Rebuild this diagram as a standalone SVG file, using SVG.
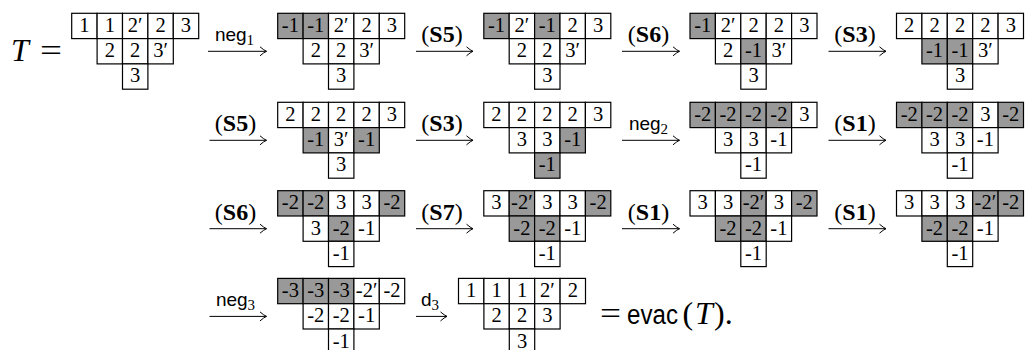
<svg xmlns="http://www.w3.org/2000/svg" xmlns:xlink="http://www.w3.org/1999/xlink" width="1026" height="350" viewBox="0 0 1026 350">
<style>
.c{fill:#fff;stroke:#000;stroke-width:1.2}
.g{fill:#999;stroke:#000;stroke-width:1.2}
.t{font-family:"Liberation Serif","DejaVu Serif",serif;font-size:20.5px;text-anchor:middle;fill:#000}
.m{font-family:"Liberation Serif","DejaVu Serif",serif;font-size:32px;fill:#000}
.mi{font-family:"Liberation Serif","DejaVu Serif",serif;font-size:32px;font-style:italic;fill:#000}
.sf{font-family:"Liberation Sans","DejaVu Sans",sans-serif;fill:#000}
.lb{font-family:"Liberation Serif","DejaVu Serif",serif;font-size:24px;text-anchor:middle;fill:#000}
.bf{font-weight:bold}
.nl{font-family:"Liberation Sans","DejaVu Sans",sans-serif;font-size:19px;text-anchor:middle;fill:#000}
.sub{font-family:"Liberation Serif","DejaVu Serif",serif;font-size:15px}
.ar{stroke:#000;stroke-width:1;fill:none;marker-end:url(#ah)}
</style>
<defs>
<rect id="w" class="c" width="25.4" height="25.3"/>
<rect id="k" class="g" width="25.4" height="25.3"/>
<marker id="ah" markerUnits="userSpaceOnUse" viewBox="-8 -6 9 12" refX="0" refY="0" markerWidth="9" markerHeight="12" orient="auto" overflow="visible">
<path d="M-6.5,-4.5 Q-2.5,-1 0,0 Q-2.5,1 -6.5,4.5" fill="none" stroke="#000" stroke-width="1"/>
</marker>
</defs>

<g id="T-eq">
<text class="mi" x="11" y="60.5">T</text>
<text class="m" x="40" y="60.5" textLength="22" lengthAdjust="spacingAndGlyphs">=</text>
</g>

<g id="t0" transform="translate(71.7,13.3)">
<use href="#w" x="0" y="0"/><use href="#w" x="25.4" y="0"/><use href="#w" x="50.8" y="0"/><use href="#w" x="76.2" y="0"/><use href="#w" x="101.6" y="0"/>
<use href="#w" x="25.4" y="25.3"/><use href="#w" x="50.8" y="25.3"/><use href="#w" x="76.2" y="25.3"/>
<use href="#w" x="50.8" y="50.6"/>
<text class="t" x="12.7" y="18.6">1</text><text class="t" x="38.1" y="18.6">1</text><text class="t" x="63.5" y="18.6">2′</text><text class="t" x="88.9" y="18.6">2</text><text class="t" x="114.3" y="18.6">3</text>
<text class="t" x="38.1" y="43.9">2</text><text class="t" x="63.5" y="43.9">2</text><text class="t" x="88.9" y="43.9">3′</text>
<text class="t" x="63.5" y="69.2">3</text>
</g>

<g id="t1" transform="translate(277.7,13.3)">
<use href="#k" x="0" y="0"/><use href="#k" x="25.4" y="0"/><use href="#w" x="50.8" y="0"/><use href="#w" x="76.2" y="0"/><use href="#w" x="101.6" y="0"/>
<use href="#w" x="25.4" y="25.3"/><use href="#w" x="50.8" y="25.3"/><use href="#w" x="76.2" y="25.3"/>
<use href="#w" x="50.8" y="50.6"/>
<text class="t" x="12.7" y="18.6">-1</text><text class="t" x="38.1" y="18.6">-1</text><text class="t" x="63.5" y="18.6">2′</text><text class="t" x="88.9" y="18.6">2</text><text class="t" x="114.3" y="18.6">3</text>
<text class="t" x="38.1" y="43.9">2</text><text class="t" x="63.5" y="43.9">2</text><text class="t" x="88.9" y="43.9">3′</text>
<text class="t" x="63.5" y="69.2">3</text>
</g>

<g id="t2" transform="translate(483.8,13.3)">
<use href="#k" x="0" y="0"/><use href="#w" x="25.4" y="0"/><use href="#k" x="50.8" y="0"/><use href="#w" x="76.2" y="0"/><use href="#w" x="101.6" y="0"/>
<use href="#w" x="25.4" y="25.3"/><use href="#w" x="50.8" y="25.3"/><use href="#w" x="76.2" y="25.3"/>
<use href="#w" x="50.8" y="50.6"/>
<text class="t" x="12.7" y="18.6">-1</text><text class="t" x="38.1" y="18.6">2′</text><text class="t" x="63.5" y="18.6">-1</text><text class="t" x="88.9" y="18.6">2</text><text class="t" x="114.3" y="18.6">3</text>
<text class="t" x="38.1" y="43.9">2</text><text class="t" x="63.5" y="43.9">2</text><text class="t" x="88.9" y="43.9">3′</text>
<text class="t" x="63.5" y="69.2">3</text>
</g>

<g id="t3" transform="translate(690,13.3)">
<use href="#k" x="0" y="0"/><use href="#w" x="25.4" y="0"/><use href="#w" x="50.8" y="0"/><use href="#w" x="76.2" y="0"/><use href="#w" x="101.6" y="0"/>
<use href="#w" x="25.4" y="25.3"/><use href="#k" x="50.8" y="25.3"/><use href="#w" x="76.2" y="25.3"/>
<use href="#w" x="50.8" y="50.6"/>
<text class="t" x="12.7" y="18.6">-1</text><text class="t" x="38.1" y="18.6">2′</text><text class="t" x="63.5" y="18.6">2</text><text class="t" x="88.9" y="18.6">2</text><text class="t" x="114.3" y="18.6">3</text>
<text class="t" x="38.1" y="43.9">2</text><text class="t" x="63.5" y="43.9">-1</text><text class="t" x="88.9" y="43.9">3′</text>
<text class="t" x="63.5" y="69.2">3</text>
</g>

<g id="t4" transform="translate(896.5,13.3)">
<use href="#w" x="0" y="0"/><use href="#w" x="25.4" y="0"/><use href="#w" x="50.8" y="0"/><use href="#w" x="76.2" y="0"/><use href="#w" x="101.6" y="0"/>
<use href="#k" x="25.4" y="25.3"/><use href="#k" x="50.8" y="25.3"/><use href="#w" x="76.2" y="25.3"/>
<use href="#w" x="50.8" y="50.6"/>
<text class="t" x="12.7" y="18.6">2</text><text class="t" x="38.1" y="18.6">2</text><text class="t" x="63.5" y="18.6">2</text><text class="t" x="88.9" y="18.6">2</text><text class="t" x="114.3" y="18.6">3</text>
<text class="t" x="38.1" y="43.9">-1</text><text class="t" x="63.5" y="43.9">-1</text><text class="t" x="88.9" y="43.9">3′</text>
<text class="t" x="63.5" y="69.2">3</text>
</g>

<g id="t5" transform="translate(277.7,102.3)">
<use href="#w" x="0" y="0"/><use href="#w" x="25.4" y="0"/><use href="#w" x="50.8" y="0"/><use href="#w" x="76.2" y="0"/><use href="#w" x="101.6" y="0"/>
<use href="#k" x="25.4" y="25.3"/><use href="#w" x="50.8" y="25.3"/><use href="#k" x="76.2" y="25.3"/>
<use href="#w" x="50.8" y="50.6"/>
<text class="t" x="12.7" y="18.6">2</text><text class="t" x="38.1" y="18.6">2</text><text class="t" x="63.5" y="18.6">2</text><text class="t" x="88.9" y="18.6">2</text><text class="t" x="114.3" y="18.6">3</text>
<text class="t" x="38.1" y="43.9">-1</text><text class="t" x="63.5" y="43.9">3′</text><text class="t" x="88.9" y="43.9">-1</text>
<text class="t" x="63.5" y="69.2">3</text>
</g>

<g id="t6" transform="translate(483.8,102.3)">
<use href="#w" x="0" y="0"/><use href="#w" x="25.4" y="0"/><use href="#w" x="50.8" y="0"/><use href="#w" x="76.2" y="0"/><use href="#w" x="101.6" y="0"/>
<use href="#w" x="25.4" y="25.3"/><use href="#w" x="50.8" y="25.3"/><use href="#k" x="76.2" y="25.3"/>
<use href="#k" x="50.8" y="50.6"/>
<text class="t" x="12.7" y="18.6">2</text><text class="t" x="38.1" y="18.6">2</text><text class="t" x="63.5" y="18.6">2</text><text class="t" x="88.9" y="18.6">2</text><text class="t" x="114.3" y="18.6">3</text>
<text class="t" x="38.1" y="43.9">3</text><text class="t" x="63.5" y="43.9">3</text><text class="t" x="88.9" y="43.9">-1</text>
<text class="t" x="63.5" y="69.2">-1</text>
</g>

<g id="t7" transform="translate(690,102.3)">
<use href="#k" x="0" y="0"/><use href="#k" x="25.4" y="0"/><use href="#k" x="50.8" y="0"/><use href="#k" x="76.2" y="0"/><use href="#w" x="101.6" y="0"/>
<use href="#w" x="25.4" y="25.3"/><use href="#w" x="50.8" y="25.3"/><use href="#w" x="76.2" y="25.3"/>
<use href="#w" x="50.8" y="50.6"/>
<text class="t" x="12.7" y="18.6">-2</text><text class="t" x="38.1" y="18.6">-2</text><text class="t" x="63.5" y="18.6">-2</text><text class="t" x="88.9" y="18.6">-2</text><text class="t" x="114.3" y="18.6">3</text>
<text class="t" x="38.1" y="43.9">3</text><text class="t" x="63.5" y="43.9">3</text><text class="t" x="88.9" y="43.9">-1</text>
<text class="t" x="63.5" y="69.2">-1</text>
</g>

<g id="t8" transform="translate(896.5,102.3)">
<use href="#k" x="0" y="0"/><use href="#k" x="25.4" y="0"/><use href="#k" x="50.8" y="0"/><use href="#w" x="76.2" y="0"/><use href="#k" x="101.6" y="0"/>
<use href="#w" x="25.4" y="25.3"/><use href="#w" x="50.8" y="25.3"/><use href="#w" x="76.2" y="25.3"/>
<use href="#w" x="50.8" y="50.6"/>
<text class="t" x="12.7" y="18.6">-2</text><text class="t" x="38.1" y="18.6">-2</text><text class="t" x="63.5" y="18.6">-2</text><text class="t" x="88.9" y="18.6">3</text><text class="t" x="114.3" y="18.6">-2</text>
<text class="t" x="38.1" y="43.9">3</text><text class="t" x="63.5" y="43.9">3</text><text class="t" x="88.9" y="43.9">-1</text>
<text class="t" x="63.5" y="69.2">-1</text>
</g>

<g id="t9" transform="translate(277.7,190.7)">
<use href="#k" x="0" y="0"/><use href="#k" x="25.4" y="0"/><use href="#w" x="50.8" y="0"/><use href="#w" x="76.2" y="0"/><use href="#k" x="101.6" y="0"/>
<use href="#w" x="25.4" y="25.3"/><use href="#k" x="50.8" y="25.3"/><use href="#w" x="76.2" y="25.3"/>
<use href="#w" x="50.8" y="50.6"/>
<text class="t" x="12.7" y="18.6">-2</text><text class="t" x="38.1" y="18.6">-2</text><text class="t" x="63.5" y="18.6">3</text><text class="t" x="88.9" y="18.6">3</text><text class="t" x="114.3" y="18.6">-2</text>
<text class="t" x="38.1" y="43.9">3</text><text class="t" x="63.5" y="43.9">-2</text><text class="t" x="88.9" y="43.9">-1</text>
<text class="t" x="63.5" y="69.2">-1</text>
</g>

<g id="t10" transform="translate(483.8,190.7)">
<use href="#w" x="0" y="0"/><use href="#k" x="25.4" y="0"/><use href="#w" x="50.8" y="0"/><use href="#w" x="76.2" y="0"/><use href="#k" x="101.6" y="0"/>
<use href="#k" x="25.4" y="25.3"/><use href="#k" x="50.8" y="25.3"/><use href="#w" x="76.2" y="25.3"/>
<use href="#w" x="50.8" y="50.6"/>
<text class="t" x="12.7" y="18.6">3</text><text class="t" x="38.1" y="18.6">-2′</text><text class="t" x="63.5" y="18.6">3</text><text class="t" x="88.9" y="18.6">3</text><text class="t" x="114.3" y="18.6">-2</text>
<text class="t" x="38.1" y="43.9">-2</text><text class="t" x="63.5" y="43.9">-2</text><text class="t" x="88.9" y="43.9">-1</text>
<text class="t" x="63.5" y="69.2">-1</text>
</g>

<g id="t11" transform="translate(690,190.7)">
<use href="#w" x="0" y="0"/><use href="#w" x="25.4" y="0"/><use href="#k" x="50.8" y="0"/><use href="#w" x="76.2" y="0"/><use href="#k" x="101.6" y="0"/>
<use href="#k" x="25.4" y="25.3"/><use href="#k" x="50.8" y="25.3"/><use href="#w" x="76.2" y="25.3"/>
<use href="#w" x="50.8" y="50.6"/>
<text class="t" x="12.7" y="18.6">3</text><text class="t" x="38.1" y="18.6">3</text><text class="t" x="63.5" y="18.6">-2′</text><text class="t" x="88.9" y="18.6">3</text><text class="t" x="114.3" y="18.6">-2</text>
<text class="t" x="38.1" y="43.9">-2</text><text class="t" x="63.5" y="43.9">-2</text><text class="t" x="88.9" y="43.9">-1</text>
<text class="t" x="63.5" y="69.2">-1</text>
</g>

<g id="t12" transform="translate(896.5,190.7)">
<use href="#w" x="0" y="0"/><use href="#w" x="25.4" y="0"/><use href="#w" x="50.8" y="0"/><use href="#k" x="76.2" y="0"/><use href="#k" x="101.6" y="0"/>
<use href="#k" x="25.4" y="25.3"/><use href="#k" x="50.8" y="25.3"/><use href="#w" x="76.2" y="25.3"/>
<use href="#w" x="50.8" y="50.6"/>
<text class="t" x="12.7" y="18.6">3</text><text class="t" x="38.1" y="18.6">3</text><text class="t" x="63.5" y="18.6">3</text><text class="t" x="88.9" y="18.6">-2′</text><text class="t" x="114.3" y="18.6">-2</text>
<text class="t" x="38.1" y="43.9">-2</text><text class="t" x="63.5" y="43.9">-2</text><text class="t" x="88.9" y="43.9">-1</text>
<text class="t" x="63.5" y="69.2">-1</text>
</g>

<g id="t13" transform="translate(277.7,278.4)">
<use href="#k" x="0" y="0"/><use href="#k" x="25.4" y="0"/><use href="#k" x="50.8" y="0"/><use href="#w" x="76.2" y="0"/><use href="#w" x="101.6" y="0"/>
<use href="#w" x="25.4" y="25.3"/><use href="#w" x="50.8" y="25.3"/><use href="#w" x="76.2" y="25.3"/>
<use href="#w" x="50.8" y="50.6"/>
<text class="t" x="12.7" y="18.6">-3</text><text class="t" x="38.1" y="18.6">-3</text><text class="t" x="63.5" y="18.6">-3</text><text class="t" x="88.9" y="18.6">-2′</text><text class="t" x="114.3" y="18.6">-2</text>
<text class="t" x="38.1" y="43.9">-2</text><text class="t" x="63.5" y="43.9">-2</text><text class="t" x="88.9" y="43.9">-1</text>
<text class="t" x="63.5" y="69.2">-1</text>
</g>

<g id="t14" transform="translate(458.5,278.4)">
<use href="#w" x="0" y="0"/><use href="#w" x="25.4" y="0"/><use href="#w" x="50.8" y="0"/><use href="#w" x="76.2" y="0"/><use href="#w" x="101.6" y="0"/>
<use href="#w" x="25.4" y="25.3"/><use href="#w" x="50.8" y="25.3"/><use href="#w" x="76.2" y="25.3"/>
<use href="#w" x="50.8" y="50.6"/>
<text class="t" x="12.7" y="18.6">1</text><text class="t" x="38.1" y="18.6">1</text><text class="t" x="63.5" y="18.6">1</text><text class="t" x="88.9" y="18.6">2′</text><text class="t" x="114.3" y="18.6">2</text>
<text class="t" x="38.1" y="43.9">2</text><text class="t" x="63.5" y="43.9">2</text><text class="t" x="88.9" y="43.9">3</text>
<text class="t" x="63.5" y="69.2">3</text>
</g>

<g id="evac">
<text class="m" x="600" y="324.4" textLength="21" lengthAdjust="spacingAndGlyphs">=</text>
<text class="sf" x="627" y="324.4" font-size="27" textLength="51" lengthAdjust="spacingAndGlyphs">evac</text>
<text class="m" x="682.5" y="324.4">(</text>
<text class="mi" x="695" y="324.4">T</text>
<text class="m" x="714" y="324.4">).</text>
</g>

<g id="connectors">
<line class="ar" x1="208" y1="51.3" x2="266.5" y2="51.3"/>
<line class="ar" x1="416" y1="51.3" x2="473" y2="51.3"/>
<line class="ar" x1="622" y1="51.3" x2="679.5" y2="51.3"/>
<line class="ar" x1="828.5" y1="51.3" x2="886" y2="51.3"/>
<line class="ar" x1="209.5" y1="140.3" x2="266.5" y2="140.3"/>
<line class="ar" x1="416" y1="140.3" x2="473" y2="140.3"/>
<line class="ar" x1="622" y1="140.3" x2="679.5" y2="140.3"/>
<line class="ar" x1="828.5" y1="140.3" x2="886" y2="140.3"/>
<line class="ar" x1="209.5" y1="228.7" x2="266.5" y2="228.7"/>
<line class="ar" x1="416" y1="228.7" x2="473" y2="228.7"/>
<line class="ar" x1="622" y1="228.7" x2="679.5" y2="228.7"/>
<line class="ar" x1="828.5" y1="228.7" x2="886" y2="228.7"/>
<line class="ar" x1="209.5" y1="316.4" x2="266.5" y2="316.4"/>
<line class="ar" x1="416" y1="316.4" x2="447" y2="316.4"/>

<text class="nl" x="234.5" y="40.8">neg<tspan class="sub" dy="4">1</tspan></text>
<text class="lb" x="442" y="42.3">(<tspan class="bf">S5</tspan>)</text>
<text class="lb" x="648.5" y="42.3">(<tspan class="bf">S6</tspan>)</text>
<text class="lb" x="855" y="42.3">(<tspan class="bf">S3</tspan>)</text>

<text class="lb" x="235.5" y="131.3">(<tspan class="bf">S5</tspan>)</text>
<text class="lb" x="442" y="131.3">(<tspan class="bf">S3</tspan>)</text>
<text class="nl" x="648.5" y="129.8">neg<tspan class="sub" dy="4">2</tspan></text>
<text class="lb" x="855" y="131.3">(<tspan class="bf">S1</tspan>)</text>

<text class="lb" x="235.5" y="219.7">(<tspan class="bf">S6</tspan>)</text>
<text class="lb" x="442" y="219.7">(<tspan class="bf">S7</tspan>)</text>
<text class="lb" x="648.5" y="219.7">(<tspan class="bf">S1</tspan>)</text>
<text class="lb" x="855" y="219.7">(<tspan class="bf">S1</tspan>)</text>

<text class="nl" x="235.5" y="305.9">neg<tspan class="sub" dy="4">3</tspan></text>
<text class="nl" x="430" y="305.9">d<tspan class="sub" dy="4">3</tspan></text>
</g>
</svg>
